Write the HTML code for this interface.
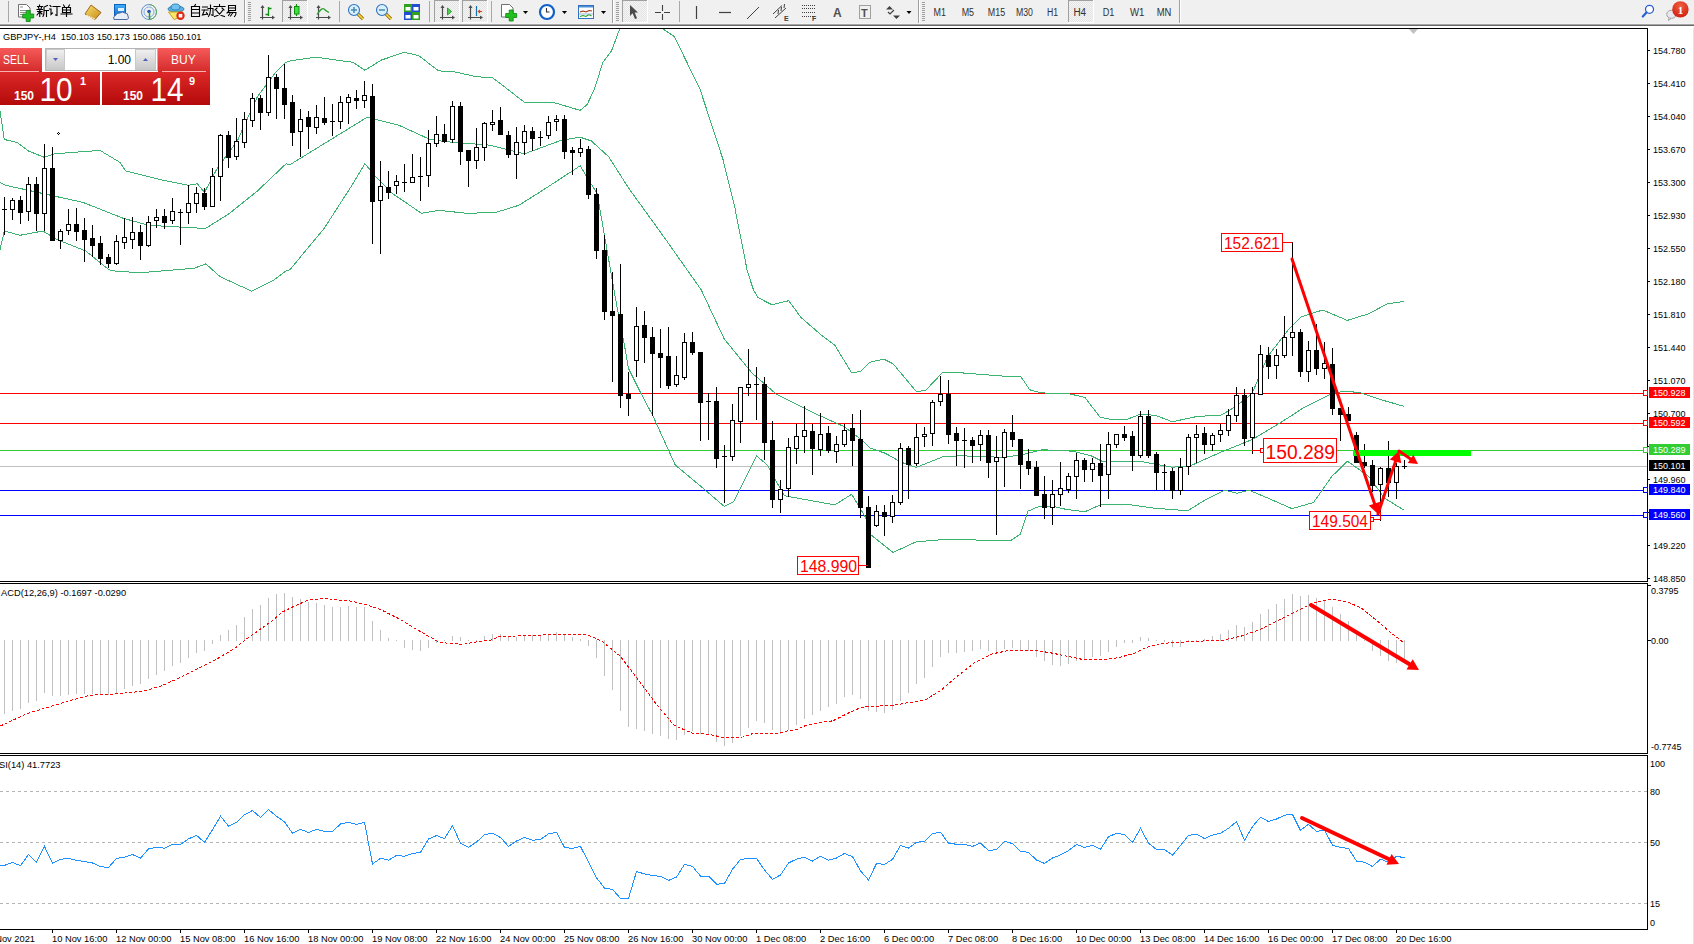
<!DOCTYPE html>
<html><head><meta charset="utf-8"><style>
html,body{margin:0;padding:0;background:#fff;}
body{width:1694px;height:944px;overflow:hidden;position:relative;}
svg{position:absolute;left:0;top:0;}
</style></head><body>
<svg width="1694" height="944" viewBox="0 0 1694 944">
<rect x="0" y="26" width="1694" height="918" fill="#ffffff"/><rect x="0" y="28" width="1648" height="1" fill="#000"/><rect x="1647" y="28" width="1" height="554" fill="#000"/><rect x="0" y="581" width="1648" height="1" fill="#000"/><rect x="0" y="583" width="1648" height="1" fill="#000"/><rect x="1647" y="583" width="1" height="171" fill="#000"/><rect x="0" y="753" width="1648" height="1" fill="#000"/><rect x="0" y="755" width="1648" height="1" fill="#000"/><rect x="1647" y="755" width="1" height="175" fill="#000"/><rect x="0" y="929" width="1648" height="1" fill="#000"/><rect x="1693" y="26" width="1" height="918" fill="#e4e4e4"/><defs><clipPath id="cm"><rect x="0" y="29" width="1647" height="552"/></clipPath><clipPath id="cd"><rect x="0" y="584" width="1647" height="169"/></clipPath><clipPath id="cr"><rect x="0" y="756" width="1647" height="173"/></clipPath></defs><g clip-path="url(#cm)" shape-rendering="crispEdges"><rect x="0" y="393" width="1647" height="1" fill="#ff0000"/><rect x="0" y="423" width="1647" height="1" fill="#ff0000"/><rect x="0" y="450" width="1647" height="1" fill="#32cd32"/><rect x="0" y="466" width="1647" height="1" fill="#c0c0c0"/><rect x="0" y="490" width="1647" height="1" fill="#0000ff"/><rect x="0" y="515" width="1647" height="1" fill="#0000ff"/></g><g clip-path="url(#cm)" fill="none" stroke="#3cb371" stroke-width="1" shape-rendering="crispEdges"><polyline points="0.0,111.0 4.3,139.5 17.0,142.4 28.6,151.0 44.3,157.3 54.3,153.8 100.0,150.4 120.0,162.4 125.8,171.0 160.0,179.6 188.7,185.3 197.3,183.8 204.5,192.4 217.3,168.1 237.3,141.0 257.4,96.6 274.5,73.8 286.0,62.3 290.0,60.9 315.7,57.2 352.9,62.3 364.9,70.3 381.5,60.0 404.4,52.3 418.7,55.7 438.7,70.9 453.0,71.5 475.9,76.6 493.0,78.0 524.5,102.3 553.0,102.3 580.2,110.4 587.1,104.6 594.3,89.5 602.9,62.3 611.5,50.9 620.0,28.0 625.0,10.0 655.0,10.0 661.5,28.0 674.4,36.6 700.1,89.5 723.0,159.5 734.4,205.3 747.3,271.1 753.5,290.0 758.1,297.7 771.9,304.7 788.8,300.7 801.1,317.6 822.6,336.1 834.8,345.3 851.7,372.9 860.9,371.4 870.1,362.2 883.8,359.1 893.0,363.7 916.1,391.3 925.3,390.7 942.2,372.9 962.1,372.9 1002.0,376.0 1020.4,376.0 1029.7,389.8 1041.9,392.9 1069.6,393.8 1084.9,397.5 1100.3,417.4 1112.6,419.6 1127.9,419.0 1140.2,414.3 1155.5,415.3 1172.3,421.8 1196.8,416.5 1221.4,415.0 1236.8,405.8 1252.1,393.5 1267.5,356.7 1289.0,329.0 1301.2,316.8 1322.7,310.0 1335.0,315.2 1347.3,320.4 1368.8,313.7 1387.2,303.9 1404.1,301.4"/><polyline points="0.0,182.4 5.7,185.3 57.2,196.7 83.0,202.4 123.0,218.2 148.7,225.3 200.0,228.2 205.9,228.2 228.8,213.9 257.4,191.0 286.0,163.8 290.0,164.7 367.2,117.2 398.7,125.2 430.1,139.5 447.3,141.8 490.2,145.2 524.5,153.8 561.7,140.1 580.2,137.2 591.4,141.0 608.6,156.7 628.6,188.1 665.8,239.6 701.3,290.0 724.3,339.1 751.9,372.9 776.5,394.4 813.3,412.8 844.0,426.6 862.5,440.4 870.0,448.1 885.4,453.3 900.7,462.0 916.1,467.5 943.7,456.4 962.1,455.8 1002.0,457.3 1020.4,455.2 1041.9,449.7 1072.6,451.2 1091.1,455.8 1103.3,461.9 1140.2,461.3 1172.3,467.2 1190.7,465.7 1221.4,451.9 1252.1,439.6 1282.8,421.2 1304.3,407.3 1331.9,393.5 1344.2,391.1 1359.6,392.6 1381.1,399.7 1404.1,406.4"/><polyline points="0.0,249.6 4.3,231.0 20.0,235.3 42.9,231.0 57.2,239.6 85.8,251.0 108.7,269.6 117.2,271.6 143.0,272.5 194.4,268.2 205.9,263.9 220.2,276.8 251.6,291.1 274.5,279.6 286.0,271.0 290.0,269.6 324.3,228.2 352.9,183.8 364.9,163.8 375.8,176.7 393.0,193.9 421.5,213.3 438.7,210.4 467.3,213.3 495.9,212.4 518.8,205.3 541.6,191.0 580.2,165.8 597.2,193.9 614.0,290.0 618.2,313.4 623.7,341.0 628.5,368.5 640.2,391.9 652.6,415.3 675.2,465.0 702.8,488.0 724.3,506.5 733.5,501.8 756.5,455.8 767.3,465.0 784.2,495.7 801.1,498.8 834.8,504.9 851.7,494.2 865.5,517.2 870.0,534.1 893.0,552.5 916.1,541.8 946.8,539.3 983.6,540.2 1011.2,540.2 1020.4,534.1 1028.1,511.1 1038.9,506.5 1054.2,506.5 1066.5,509.5 1084.9,511.7 1100.3,504.9 1131.0,504.9 1152.5,508.0 1187.6,510.8 1206.1,499.4 1224.5,490.2 1236.8,493.3 1249.0,490.2 1267.5,497.9 1292.0,508.7 1313.5,502.5 1331.9,476.4 1347.3,461.1 1368.8,476.4 1384.1,497.9 1404.1,510.2"/></g><g clip-path="url(#cm)" shape-rendering="crispEdges"><rect x="4" y="197" width="1" height="38" fill="#000"/><rect x="2" y="209" width="5" height="1" fill="#000"/><rect x="12" y="198" width="1" height="22" fill="#000"/><rect x="10" y="200" width="5" height="10" fill="#000"/><rect x="11" y="201" width="3" height="8" fill="#fff"/><rect x="20" y="196" width="1" height="28" fill="#000"/><rect x="18" y="200" width="5" height="13" fill="#000"/><rect x="28" y="177" width="1" height="44" fill="#000"/><rect x="26" y="184" width="5" height="28" fill="#000"/><rect x="27" y="185" width="3" height="26" fill="#fff"/><rect x="36" y="177" width="1" height="54" fill="#000"/><rect x="34" y="184" width="5" height="30" fill="#000"/><rect x="44" y="144" width="1" height="87" fill="#000"/><rect x="42" y="168" width="5" height="46" fill="#000"/><rect x="43" y="169" width="3" height="44" fill="#fff"/><rect x="52" y="147" width="1" height="94" fill="#000"/><rect x="50" y="168" width="5" height="73" fill="#000"/><rect x="60" y="229" width="1" height="20" fill="#000"/><rect x="58" y="231" width="5" height="10" fill="#000"/><rect x="59" y="232" width="3" height="8" fill="#fff"/><rect x="68" y="209" width="1" height="26" fill="#000"/><rect x="66" y="224" width="5" height="7" fill="#000"/><rect x="67" y="225" width="3" height="5" fill="#fff"/><rect x="76" y="208" width="1" height="33" fill="#000"/><rect x="74" y="224" width="5" height="8" fill="#000"/><rect x="84" y="218" width="1" height="44" fill="#000"/><rect x="82" y="230" width="5" height="10" fill="#000"/><rect x="92" y="225" width="1" height="32" fill="#000"/><rect x="90" y="238" width="5" height="8" fill="#000"/><rect x="100" y="236" width="1" height="29" fill="#000"/><rect x="98" y="243" width="5" height="16" fill="#000"/><rect x="108" y="254" width="1" height="14" fill="#000"/><rect x="106" y="257" width="5" height="7" fill="#000"/><rect x="116" y="235" width="1" height="30" fill="#000"/><rect x="114" y="241" width="5" height="23" fill="#000"/><rect x="115" y="242" width="3" height="21" fill="#fff"/><rect x="124" y="218" width="1" height="31" fill="#000"/><rect x="122" y="237" width="5" height="6" fill="#000"/><rect x="123" y="238" width="3" height="4" fill="#fff"/><rect x="132" y="217" width="1" height="32" fill="#000"/><rect x="130" y="232" width="5" height="8" fill="#000"/><rect x="131" y="233" width="3" height="6" fill="#fff"/><rect x="140" y="225" width="1" height="35" fill="#000"/><rect x="138" y="232" width="5" height="14" fill="#000"/><rect x="148" y="216" width="1" height="31" fill="#000"/><rect x="146" y="222" width="5" height="24" fill="#000"/><rect x="147" y="223" width="3" height="22" fill="#fff"/><rect x="156" y="209" width="1" height="19" fill="#000"/><rect x="154" y="217" width="5" height="4" fill="#000"/><rect x="155" y="218" width="3" height="2" fill="#fff"/><rect x="164" y="209" width="1" height="20" fill="#000"/><rect x="162" y="216" width="5" height="7" fill="#000"/><rect x="172" y="198" width="1" height="26" fill="#000"/><rect x="170" y="211" width="5" height="10" fill="#000"/><rect x="171" y="212" width="3" height="8" fill="#fff"/><rect x="180" y="209" width="1" height="36" fill="#000"/><rect x="178" y="212" width="5" height="1" fill="#000"/><rect x="188" y="185" width="1" height="39" fill="#000"/><rect x="186" y="203" width="5" height="10" fill="#000"/><rect x="187" y="204" width="3" height="8" fill="#fff"/><rect x="196" y="187" width="1" height="26" fill="#000"/><rect x="194" y="193" width="5" height="11" fill="#000"/><rect x="195" y="194" width="3" height="9" fill="#fff"/><rect x="204" y="188" width="1" height="22" fill="#000"/><rect x="202" y="193" width="5" height="14" fill="#000"/><rect x="212" y="168" width="1" height="39" fill="#000"/><rect x="210" y="176" width="5" height="31" fill="#000"/><rect x="211" y="177" width="3" height="29" fill="#fff"/><rect x="220" y="134" width="1" height="67" fill="#000"/><rect x="218" y="135" width="5" height="42" fill="#000"/><rect x="219" y="136" width="3" height="40" fill="#fff"/><rect x="228" y="131" width="1" height="37" fill="#000"/><rect x="226" y="135" width="5" height="23" fill="#000"/><rect x="236" y="118" width="1" height="42" fill="#000"/><rect x="234" y="141" width="5" height="16" fill="#000"/><rect x="235" y="142" width="3" height="14" fill="#fff"/><rect x="244" y="112" width="1" height="36" fill="#000"/><rect x="242" y="119" width="5" height="24" fill="#000"/><rect x="243" y="120" width="3" height="22" fill="#fff"/><rect x="252" y="93" width="1" height="34" fill="#000"/><rect x="250" y="98" width="5" height="23" fill="#000"/><rect x="251" y="99" width="3" height="21" fill="#fff"/><rect x="260" y="95" width="1" height="35" fill="#000"/><rect x="258" y="98" width="5" height="15" fill="#000"/><rect x="268" y="55" width="1" height="61" fill="#000"/><rect x="266" y="77" width="5" height="36" fill="#000"/><rect x="267" y="78" width="3" height="34" fill="#fff"/><rect x="276" y="74" width="1" height="45" fill="#000"/><rect x="274" y="77" width="5" height="12" fill="#000"/><rect x="284" y="64" width="1" height="55" fill="#000"/><rect x="282" y="88" width="5" height="17" fill="#000"/><rect x="292" y="95" width="1" height="51" fill="#000"/><rect x="290" y="102" width="5" height="31" fill="#000"/><rect x="300" y="109" width="1" height="48" fill="#000"/><rect x="298" y="119" width="5" height="13" fill="#000"/><rect x="299" y="120" width="3" height="11" fill="#fff"/><rect x="308" y="111" width="1" height="38" fill="#000"/><rect x="306" y="117" width="5" height="10" fill="#000"/><rect x="316" y="105" width="1" height="29" fill="#000"/><rect x="314" y="117" width="5" height="11" fill="#000"/><rect x="315" y="118" width="3" height="9" fill="#fff"/><rect x="324" y="97" width="1" height="28" fill="#000"/><rect x="322" y="118" width="5" height="5" fill="#000"/><rect x="332" y="104" width="1" height="32" fill="#000"/><rect x="330" y="121" width="5" height="1" fill="#000"/><rect x="340" y="96" width="1" height="33" fill="#000"/><rect x="338" y="102" width="5" height="20" fill="#000"/><rect x="339" y="103" width="3" height="18" fill="#fff"/><rect x="348" y="94" width="1" height="30" fill="#000"/><rect x="346" y="97" width="5" height="6" fill="#000"/><rect x="347" y="98" width="3" height="4" fill="#fff"/><rect x="356" y="90" width="1" height="19" fill="#000"/><rect x="354" y="98" width="5" height="3" fill="#000"/><rect x="364" y="81" width="1" height="27" fill="#000"/><rect x="362" y="95" width="5" height="6" fill="#000"/><rect x="363" y="96" width="3" height="4" fill="#fff"/><rect x="372" y="84" width="1" height="160" fill="#000"/><rect x="370" y="96" width="5" height="106" fill="#000"/><rect x="380" y="161" width="1" height="93" fill="#000"/><rect x="378" y="186" width="5" height="15" fill="#000"/><rect x="379" y="187" width="3" height="13" fill="#fff"/><rect x="388" y="171" width="1" height="28" fill="#000"/><rect x="386" y="187" width="5" height="6" fill="#000"/><rect x="396" y="175" width="1" height="19" fill="#000"/><rect x="394" y="181" width="5" height="5" fill="#000"/><rect x="395" y="182" width="3" height="3" fill="#fff"/><rect x="404" y="164" width="1" height="28" fill="#000"/><rect x="402" y="182" width="5" height="1" fill="#000"/><rect x="412" y="154" width="1" height="29" fill="#000"/><rect x="410" y="177" width="5" height="6" fill="#000"/><rect x="411" y="178" width="3" height="4" fill="#fff"/><rect x="420" y="157" width="1" height="44" fill="#000"/><rect x="418" y="176" width="5" height="1" fill="#000"/><rect x="428" y="130" width="1" height="57" fill="#000"/><rect x="426" y="143" width="5" height="33" fill="#000"/><rect x="427" y="144" width="3" height="31" fill="#fff"/><rect x="436" y="116" width="1" height="31" fill="#000"/><rect x="434" y="134" width="5" height="10" fill="#000"/><rect x="435" y="135" width="3" height="8" fill="#fff"/><rect x="444" y="124" width="1" height="19" fill="#000"/><rect x="442" y="134" width="5" height="8" fill="#000"/><rect x="452" y="101" width="1" height="42" fill="#000"/><rect x="450" y="106" width="5" height="34" fill="#000"/><rect x="451" y="107" width="3" height="32" fill="#fff"/><rect x="460" y="102" width="1" height="63" fill="#000"/><rect x="458" y="106" width="5" height="46" fill="#000"/><rect x="468" y="150" width="1" height="37" fill="#000"/><rect x="466" y="150" width="5" height="11" fill="#000"/><rect x="476" y="128" width="1" height="41" fill="#000"/><rect x="474" y="147" width="5" height="14" fill="#000"/><rect x="475" y="148" width="3" height="12" fill="#fff"/><rect x="484" y="122" width="1" height="39" fill="#000"/><rect x="482" y="123" width="5" height="25" fill="#000"/><rect x="483" y="124" width="3" height="23" fill="#fff"/><rect x="492" y="110" width="1" height="21" fill="#000"/><rect x="490" y="122" width="5" height="3" fill="#000"/><rect x="491" y="123" width="3" height="1" fill="#fff"/><rect x="500" y="107" width="1" height="28" fill="#000"/><rect x="498" y="120" width="5" height="15" fill="#000"/><rect x="508" y="131" width="1" height="27" fill="#000"/><rect x="506" y="135" width="5" height="20" fill="#000"/><rect x="516" y="127" width="1" height="52" fill="#000"/><rect x="514" y="142" width="5" height="13" fill="#000"/><rect x="515" y="143" width="3" height="11" fill="#fff"/><rect x="524" y="125" width="1" height="30" fill="#000"/><rect x="522" y="131" width="5" height="12" fill="#000"/><rect x="523" y="132" width="3" height="10" fill="#fff"/><rect x="532" y="127" width="1" height="24" fill="#000"/><rect x="530" y="131" width="5" height="8" fill="#000"/><rect x="540" y="131" width="1" height="15" fill="#000"/><rect x="538" y="137" width="5" height="1" fill="#000"/><rect x="548" y="116" width="1" height="23" fill="#000"/><rect x="546" y="122" width="5" height="14" fill="#000"/><rect x="547" y="123" width="3" height="12" fill="#fff"/><rect x="556" y="115" width="1" height="16" fill="#000"/><rect x="554" y="119" width="5" height="3" fill="#000"/><rect x="555" y="120" width="3" height="1" fill="#fff"/><rect x="564" y="115" width="1" height="44" fill="#000"/><rect x="562" y="119" width="5" height="33" fill="#000"/><rect x="572" y="147" width="1" height="28" fill="#000"/><rect x="570" y="150" width="5" height="3" fill="#000"/><rect x="580" y="139" width="1" height="18" fill="#000"/><rect x="578" y="148" width="5" height="5" fill="#000"/><rect x="579" y="149" width="3" height="3" fill="#fff"/><rect x="588" y="146" width="1" height="53" fill="#000"/><rect x="586" y="149" width="5" height="46" fill="#000"/><rect x="596" y="188" width="1" height="71" fill="#000"/><rect x="594" y="194" width="5" height="57" fill="#000"/><rect x="604" y="235" width="1" height="85" fill="#000"/><rect x="602" y="250" width="5" height="62" fill="#000"/><rect x="612" y="272" width="1" height="110" fill="#000"/><rect x="610" y="311" width="5" height="5" fill="#000"/><rect x="620" y="264" width="1" height="144" fill="#000"/><rect x="618" y="314" width="5" height="82" fill="#000"/><rect x="628" y="372" width="1" height="44" fill="#000"/><rect x="626" y="394" width="5" height="5" fill="#000"/><rect x="636" y="307" width="1" height="70" fill="#000"/><rect x="634" y="326" width="5" height="35" fill="#000"/><rect x="635" y="327" width="3" height="33" fill="#fff"/><rect x="644" y="311" width="1" height="52" fill="#000"/><rect x="642" y="325" width="5" height="13" fill="#000"/><rect x="652" y="327" width="1" height="89" fill="#000"/><rect x="650" y="337" width="5" height="17" fill="#000"/><rect x="660" y="329" width="1" height="59" fill="#000"/><rect x="658" y="353" width="5" height="5" fill="#000"/><rect x="668" y="327" width="1" height="62" fill="#000"/><rect x="666" y="356" width="5" height="30" fill="#000"/><rect x="676" y="356" width="1" height="31" fill="#000"/><rect x="674" y="375" width="5" height="10" fill="#000"/><rect x="675" y="376" width="3" height="8" fill="#fff"/><rect x="684" y="333" width="1" height="47" fill="#000"/><rect x="682" y="342" width="5" height="36" fill="#000"/><rect x="683" y="343" width="3" height="34" fill="#fff"/><rect x="692" y="332" width="1" height="23" fill="#000"/><rect x="690" y="342" width="5" height="11" fill="#000"/><rect x="700" y="352" width="1" height="89" fill="#000"/><rect x="698" y="352" width="5" height="51" fill="#000"/><rect x="708" y="393" width="1" height="47" fill="#000"/><rect x="706" y="401" width="5" height="1" fill="#000"/><rect x="716" y="387" width="1" height="81" fill="#000"/><rect x="714" y="401" width="5" height="58" fill="#000"/><rect x="724" y="445" width="1" height="58" fill="#000"/><rect x="722" y="456" width="5" height="1" fill="#000"/><rect x="732" y="404" width="1" height="57" fill="#000"/><rect x="730" y="420" width="5" height="37" fill="#000"/><rect x="731" y="421" width="3" height="35" fill="#fff"/><rect x="740" y="387" width="1" height="56" fill="#000"/><rect x="738" y="387" width="5" height="35" fill="#000"/><rect x="739" y="388" width="3" height="33" fill="#fff"/><rect x="748" y="349" width="1" height="47" fill="#000"/><rect x="746" y="384" width="5" height="4" fill="#000"/><rect x="747" y="385" width="3" height="2" fill="#fff"/><rect x="756" y="367" width="1" height="53" fill="#000"/><rect x="754" y="384" width="5" height="1" fill="#000"/><rect x="764" y="377" width="1" height="83" fill="#000"/><rect x="762" y="384" width="5" height="59" fill="#000"/><rect x="772" y="421" width="1" height="87" fill="#000"/><rect x="770" y="440" width="5" height="60" fill="#000"/><rect x="780" y="480" width="1" height="33" fill="#000"/><rect x="778" y="489" width="5" height="11" fill="#000"/><rect x="779" y="490" width="3" height="9" fill="#fff"/><rect x="788" y="438" width="1" height="59" fill="#000"/><rect x="786" y="447" width="5" height="42" fill="#000"/><rect x="787" y="448" width="3" height="40" fill="#fff"/><rect x="796" y="424" width="1" height="40" fill="#000"/><rect x="794" y="436" width="5" height="13" fill="#000"/><rect x="795" y="437" width="3" height="11" fill="#fff"/><rect x="804" y="406" width="1" height="47" fill="#000"/><rect x="802" y="430" width="5" height="7" fill="#000"/><rect x="803" y="431" width="3" height="5" fill="#fff"/><rect x="812" y="424" width="1" height="51" fill="#000"/><rect x="810" y="431" width="5" height="18" fill="#000"/><rect x="820" y="413" width="1" height="43" fill="#000"/><rect x="818" y="434" width="5" height="16" fill="#000"/><rect x="819" y="435" width="3" height="14" fill="#fff"/><rect x="828" y="426" width="1" height="27" fill="#000"/><rect x="826" y="433" width="5" height="18" fill="#000"/><rect x="836" y="436" width="1" height="27" fill="#000"/><rect x="834" y="444" width="5" height="8" fill="#000"/><rect x="835" y="445" width="3" height="6" fill="#fff"/><rect x="844" y="424" width="1" height="23" fill="#000"/><rect x="842" y="430" width="5" height="15" fill="#000"/><rect x="843" y="431" width="3" height="13" fill="#fff"/><rect x="852" y="414" width="1" height="52" fill="#000"/><rect x="850" y="428" width="5" height="13" fill="#000"/><rect x="860" y="410" width="1" height="108" fill="#000"/><rect x="858" y="439" width="5" height="69" fill="#000"/><rect x="868" y="496" width="1" height="72" fill="#000"/><rect x="866" y="507" width="5" height="61" fill="#000"/><rect x="876" y="505" width="1" height="22" fill="#000"/><rect x="874" y="511" width="5" height="15" fill="#000"/><rect x="875" y="512" width="3" height="13" fill="#fff"/><rect x="884" y="505" width="1" height="31" fill="#000"/><rect x="882" y="512" width="5" height="5" fill="#000"/><rect x="892" y="495" width="1" height="28" fill="#000"/><rect x="890" y="502" width="5" height="15" fill="#000"/><rect x="891" y="503" width="3" height="13" fill="#fff"/><rect x="900" y="443" width="1" height="62" fill="#000"/><rect x="898" y="448" width="5" height="55" fill="#000"/><rect x="899" y="449" width="3" height="53" fill="#fff"/><rect x="908" y="446" width="1" height="53" fill="#000"/><rect x="906" y="448" width="5" height="17" fill="#000"/><rect x="916" y="424" width="1" height="42" fill="#000"/><rect x="914" y="437" width="5" height="27" fill="#000"/><rect x="915" y="438" width="3" height="25" fill="#fff"/><rect x="924" y="427" width="1" height="20" fill="#000"/><rect x="922" y="434" width="5" height="3" fill="#000"/><rect x="923" y="435" width="3" height="1" fill="#fff"/><rect x="932" y="400" width="1" height="46" fill="#000"/><rect x="930" y="402" width="5" height="32" fill="#000"/><rect x="931" y="403" width="3" height="30" fill="#fff"/><rect x="940" y="376" width="1" height="30" fill="#000"/><rect x="938" y="394" width="5" height="8" fill="#000"/><rect x="939" y="395" width="3" height="6" fill="#fff"/><rect x="948" y="380" width="1" height="64" fill="#000"/><rect x="946" y="394" width="5" height="41" fill="#000"/><rect x="956" y="427" width="1" height="39" fill="#000"/><rect x="954" y="433" width="5" height="8" fill="#000"/><rect x="964" y="428" width="1" height="40" fill="#000"/><rect x="962" y="440" width="5" height="1" fill="#000"/><rect x="972" y="437" width="1" height="26" fill="#000"/><rect x="970" y="440" width="5" height="6" fill="#000"/><rect x="980" y="430" width="1" height="31" fill="#000"/><rect x="978" y="435" width="5" height="10" fill="#000"/><rect x="979" y="436" width="3" height="8" fill="#fff"/><rect x="988" y="430" width="1" height="48" fill="#000"/><rect x="986" y="435" width="5" height="28" fill="#000"/><rect x="996" y="436" width="1" height="99" fill="#000"/><rect x="994" y="457" width="5" height="5" fill="#000"/><rect x="995" y="458" width="3" height="3" fill="#fff"/><rect x="1004" y="429" width="1" height="58" fill="#000"/><rect x="1002" y="432" width="5" height="26" fill="#000"/><rect x="1003" y="433" width="3" height="24" fill="#fff"/><rect x="1012" y="415" width="1" height="32" fill="#000"/><rect x="1010" y="432" width="5" height="8" fill="#000"/><rect x="1020" y="439" width="1" height="50" fill="#000"/><rect x="1018" y="439" width="5" height="26" fill="#000"/><rect x="1028" y="449" width="1" height="26" fill="#000"/><rect x="1026" y="461" width="5" height="8" fill="#000"/><rect x="1036" y="461" width="1" height="35" fill="#000"/><rect x="1034" y="467" width="5" height="29" fill="#000"/><rect x="1044" y="476" width="1" height="43" fill="#000"/><rect x="1042" y="494" width="5" height="14" fill="#000"/><rect x="1052" y="480" width="1" height="45" fill="#000"/><rect x="1050" y="494" width="5" height="14" fill="#000"/><rect x="1051" y="495" width="3" height="12" fill="#fff"/><rect x="1060" y="462" width="1" height="44" fill="#000"/><rect x="1058" y="488" width="5" height="7" fill="#000"/><rect x="1059" y="489" width="3" height="5" fill="#fff"/><rect x="1068" y="473" width="1" height="20" fill="#000"/><rect x="1066" y="476" width="5" height="14" fill="#000"/><rect x="1067" y="477" width="3" height="12" fill="#fff"/><rect x="1076" y="453" width="1" height="46" fill="#000"/><rect x="1074" y="460" width="5" height="17" fill="#000"/><rect x="1075" y="461" width="3" height="15" fill="#fff"/><rect x="1084" y="458" width="1" height="24" fill="#000"/><rect x="1082" y="460" width="5" height="10" fill="#000"/><rect x="1092" y="458" width="1" height="24" fill="#000"/><rect x="1090" y="463" width="5" height="7" fill="#000"/><rect x="1091" y="464" width="3" height="5" fill="#fff"/><rect x="1100" y="444" width="1" height="63" fill="#000"/><rect x="1098" y="463" width="5" height="13" fill="#000"/><rect x="1108" y="432" width="1" height="67" fill="#000"/><rect x="1106" y="444" width="5" height="31" fill="#000"/><rect x="1107" y="445" width="3" height="29" fill="#fff"/><rect x="1116" y="434" width="1" height="14" fill="#000"/><rect x="1114" y="434" width="5" height="11" fill="#000"/><rect x="1115" y="435" width="3" height="9" fill="#fff"/><rect x="1124" y="426" width="1" height="15" fill="#000"/><rect x="1122" y="434" width="5" height="4" fill="#000"/><rect x="1132" y="431" width="1" height="40" fill="#000"/><rect x="1130" y="436" width="5" height="20" fill="#000"/><rect x="1140" y="411" width="1" height="47" fill="#000"/><rect x="1138" y="416" width="5" height="40" fill="#000"/><rect x="1139" y="417" width="3" height="38" fill="#fff"/><rect x="1148" y="410" width="1" height="48" fill="#000"/><rect x="1146" y="416" width="5" height="40" fill="#000"/><rect x="1156" y="452" width="1" height="38" fill="#000"/><rect x="1154" y="454" width="5" height="19" fill="#000"/><rect x="1164" y="464" width="1" height="26" fill="#000"/><rect x="1162" y="472" width="5" height="1" fill="#000"/><rect x="1172" y="468" width="1" height="31" fill="#000"/><rect x="1170" y="471" width="5" height="20" fill="#000"/><rect x="1180" y="458" width="1" height="37" fill="#000"/><rect x="1178" y="467" width="5" height="24" fill="#000"/><rect x="1179" y="468" width="3" height="22" fill="#fff"/><rect x="1188" y="434" width="1" height="41" fill="#000"/><rect x="1186" y="437" width="5" height="30" fill="#000"/><rect x="1187" y="438" width="3" height="28" fill="#fff"/><rect x="1196" y="425" width="1" height="38" fill="#000"/><rect x="1194" y="434" width="5" height="4" fill="#000"/><rect x="1195" y="435" width="3" height="2" fill="#fff"/><rect x="1204" y="427" width="1" height="27" fill="#000"/><rect x="1202" y="433" width="5" height="12" fill="#000"/><rect x="1212" y="433" width="1" height="18" fill="#000"/><rect x="1210" y="435" width="5" height="10" fill="#000"/><rect x="1211" y="436" width="3" height="8" fill="#fff"/><rect x="1220" y="424" width="1" height="18" fill="#000"/><rect x="1218" y="430" width="5" height="5" fill="#000"/><rect x="1219" y="431" width="3" height="3" fill="#fff"/><rect x="1228" y="409" width="1" height="27" fill="#000"/><rect x="1226" y="415" width="5" height="16" fill="#000"/><rect x="1227" y="416" width="3" height="14" fill="#fff"/><rect x="1236" y="387" width="1" height="35" fill="#000"/><rect x="1234" y="395" width="5" height="21" fill="#000"/><rect x="1235" y="396" width="3" height="19" fill="#fff"/><rect x="1244" y="389" width="1" height="57" fill="#000"/><rect x="1242" y="395" width="5" height="44" fill="#000"/><rect x="1252" y="387" width="1" height="67" fill="#000"/><rect x="1250" y="393" width="5" height="45" fill="#000"/><rect x="1251" y="394" width="3" height="43" fill="#fff"/><rect x="1260" y="345" width="1" height="50" fill="#000"/><rect x="1258" y="354" width="5" height="41" fill="#000"/><rect x="1259" y="355" width="3" height="39" fill="#fff"/><rect x="1268" y="347" width="1" height="32" fill="#000"/><rect x="1266" y="355" width="5" height="12" fill="#000"/><rect x="1276" y="349" width="1" height="30" fill="#000"/><rect x="1274" y="355" width="5" height="11" fill="#000"/><rect x="1275" y="356" width="3" height="9" fill="#fff"/><rect x="1284" y="316" width="1" height="42" fill="#000"/><rect x="1282" y="337" width="5" height="19" fill="#000"/><rect x="1283" y="338" width="3" height="17" fill="#fff"/><rect x="1292" y="242" width="1" height="114" fill="#000"/><rect x="1290" y="332" width="5" height="6" fill="#000"/><rect x="1291" y="333" width="3" height="4" fill="#fff"/><rect x="1300" y="329" width="1" height="48" fill="#000"/><rect x="1298" y="332" width="5" height="40" fill="#000"/><rect x="1308" y="341" width="1" height="41" fill="#000"/><rect x="1306" y="350" width="5" height="22" fill="#000"/><rect x="1307" y="351" width="3" height="20" fill="#fff"/><rect x="1316" y="324" width="1" height="51" fill="#000"/><rect x="1314" y="350" width="5" height="19" fill="#000"/><rect x="1324" y="342" width="1" height="37" fill="#000"/><rect x="1322" y="363" width="5" height="6" fill="#000"/><rect x="1323" y="364" width="3" height="4" fill="#fff"/><rect x="1332" y="348" width="1" height="67" fill="#000"/><rect x="1330" y="364" width="5" height="45" fill="#000"/><rect x="1340" y="408" width="1" height="33" fill="#000"/><rect x="1338" y="408" width="5" height="7" fill="#000"/><rect x="1348" y="407" width="1" height="14" fill="#000"/><rect x="1346" y="414" width="5" height="7" fill="#000"/><rect x="1356" y="432" width="1" height="31" fill="#000"/><rect x="1354" y="435" width="5" height="28" fill="#000"/><rect x="1364" y="444" width="1" height="24" fill="#000"/><rect x="1362" y="462" width="5" height="4" fill="#000"/><rect x="1372" y="460" width="1" height="32" fill="#000"/><rect x="1370" y="465" width="5" height="21" fill="#000"/><rect x="1380" y="467" width="1" height="54" fill="#000"/><rect x="1378" y="468" width="5" height="17" fill="#000"/><rect x="1379" y="469" width="3" height="15" fill="#fff"/><rect x="1388" y="441" width="1" height="56" fill="#000"/><rect x="1386" y="468" width="5" height="15" fill="#000"/><rect x="1396" y="463" width="1" height="36" fill="#000"/><rect x="1394" y="466" width="5" height="17" fill="#000"/><rect x="1395" y="467" width="3" height="15" fill="#fff"/><rect x="1404" y="460" width="1" height="9" fill="#000"/><rect x="1402" y="466" width="5" height="1" fill="#000"/></g><g clip-path="url(#cd)" shape-rendering="crispEdges"><rect x="4" y="640" width="1" height="74" fill="#c0c0c0"/><rect x="12" y="640" width="1" height="71" fill="#c0c0c0"/><rect x="20" y="640" width="1" height="69" fill="#c0c0c0"/><rect x="28" y="640" width="1" height="63" fill="#c0c0c0"/><rect x="36" y="640" width="1" height="61" fill="#c0c0c0"/><rect x="44" y="640" width="1" height="53" fill="#c0c0c0"/><rect x="52" y="640" width="1" height="56" fill="#c0c0c0"/><rect x="60" y="640" width="1" height="56" fill="#c0c0c0"/><rect x="68" y="640" width="1" height="55" fill="#c0c0c0"/><rect x="76" y="640" width="1" height="54" fill="#c0c0c0"/><rect x="84" y="640" width="1" height="54" fill="#c0c0c0"/><rect x="92" y="640" width="1" height="54" fill="#c0c0c0"/><rect x="100" y="640" width="1" height="55" fill="#c0c0c0"/><rect x="108" y="640" width="1" height="55" fill="#c0c0c0"/><rect x="116" y="640" width="1" height="53" fill="#c0c0c0"/><rect x="124" y="640" width="1" height="49" fill="#c0c0c0"/><rect x="132" y="640" width="1" height="46" fill="#c0c0c0"/><rect x="140" y="640" width="1" height="44" fill="#c0c0c0"/><rect x="148" y="640" width="1" height="39" fill="#c0c0c0"/><rect x="156" y="640" width="1" height="35" fill="#c0c0c0"/><rect x="164" y="640" width="1" height="31" fill="#c0c0c0"/><rect x="172" y="640" width="1" height="26" fill="#c0c0c0"/><rect x="180" y="640" width="1" height="23" fill="#c0c0c0"/><rect x="188" y="640" width="1" height="18" fill="#c0c0c0"/><rect x="196" y="640" width="1" height="13" fill="#c0c0c0"/><rect x="204" y="640" width="1" height="11" fill="#c0c0c0"/><rect x="212" y="640" width="1" height="4" fill="#c0c0c0"/><rect x="220" y="635" width="1" height="6" fill="#c0c0c0"/><rect x="228" y="630" width="1" height="11" fill="#c0c0c0"/><rect x="236" y="625" width="1" height="16" fill="#c0c0c0"/><rect x="244" y="617" width="1" height="24" fill="#c0c0c0"/><rect x="252" y="609" width="1" height="32" fill="#c0c0c0"/><rect x="260" y="605" width="1" height="36" fill="#c0c0c0"/><rect x="268" y="598" width="1" height="43" fill="#c0c0c0"/><rect x="276" y="594" width="1" height="47" fill="#c0c0c0"/><rect x="284" y="593" width="1" height="48" fill="#c0c0c0"/><rect x="292" y="597" width="1" height="44" fill="#c0c0c0"/><rect x="300" y="599" width="1" height="42" fill="#c0c0c0"/><rect x="308" y="602" width="1" height="39" fill="#c0c0c0"/><rect x="316" y="603" width="1" height="38" fill="#c0c0c0"/><rect x="324" y="605" width="1" height="36" fill="#c0c0c0"/><rect x="332" y="607" width="1" height="34" fill="#c0c0c0"/><rect x="340" y="607" width="1" height="34" fill="#c0c0c0"/><rect x="348" y="606" width="1" height="35" fill="#c0c0c0"/><rect x="356" y="607" width="1" height="34" fill="#c0c0c0"/><rect x="364" y="607" width="1" height="34" fill="#c0c0c0"/><rect x="372" y="621" width="1" height="20" fill="#c0c0c0"/><rect x="380" y="630" width="1" height="11" fill="#c0c0c0"/><rect x="388" y="638" width="1" height="3" fill="#c0c0c0"/><rect x="396" y="640" width="1" height="1" fill="#c0c0c0"/><rect x="404" y="640" width="1" height="8" fill="#c0c0c0"/><rect x="412" y="640" width="1" height="10" fill="#c0c0c0"/><rect x="420" y="640" width="1" height="11" fill="#c0c0c0"/><rect x="428" y="640" width="1" height="8" fill="#c0c0c0"/><rect x="436" y="640" width="1" height="3" fill="#c0c0c0"/><rect x="444" y="640" width="1" height="1" fill="#c0c0c0"/><rect x="452" y="636" width="1" height="5" fill="#c0c0c0"/><rect x="460" y="637" width="1" height="4" fill="#c0c0c0"/><rect x="468" y="640" width="1" height="1" fill="#c0c0c0"/><rect x="476" y="640" width="1" height="1" fill="#c0c0c0"/><rect x="484" y="636" width="1" height="5" fill="#c0c0c0"/><rect x="492" y="634" width="1" height="7" fill="#c0c0c0"/><rect x="500" y="634" width="1" height="7" fill="#c0c0c0"/><rect x="508" y="637" width="1" height="4" fill="#c0c0c0"/><rect x="516" y="637" width="1" height="4" fill="#c0c0c0"/><rect x="524" y="635" width="1" height="6" fill="#c0c0c0"/><rect x="532" y="635" width="1" height="6" fill="#c0c0c0"/><rect x="540" y="635" width="1" height="6" fill="#c0c0c0"/><rect x="548" y="634" width="1" height="7" fill="#c0c0c0"/><rect x="556" y="632" width="1" height="9" fill="#c0c0c0"/><rect x="564" y="634" width="1" height="7" fill="#c0c0c0"/><rect x="572" y="637" width="1" height="4" fill="#c0c0c0"/><rect x="580" y="639" width="1" height="2" fill="#c0c0c0"/><rect x="588" y="640" width="1" height="6" fill="#c0c0c0"/><rect x="596" y="640" width="1" height="18" fill="#c0c0c0"/><rect x="604" y="640" width="1" height="36" fill="#c0c0c0"/><rect x="612" y="640" width="1" height="50" fill="#c0c0c0"/><rect x="620" y="640" width="1" height="71" fill="#c0c0c0"/><rect x="628" y="640" width="1" height="87" fill="#c0c0c0"/><rect x="636" y="640" width="1" height="89" fill="#c0c0c0"/><rect x="644" y="640" width="1" height="91" fill="#c0c0c0"/><rect x="652" y="640" width="1" height="94" fill="#c0c0c0"/><rect x="660" y="640" width="1" height="96" fill="#c0c0c0"/><rect x="668" y="640" width="1" height="99" fill="#c0c0c0"/><rect x="676" y="640" width="1" height="100" fill="#c0c0c0"/><rect x="684" y="640" width="1" height="95" fill="#c0c0c0"/><rect x="692" y="640" width="1" height="91" fill="#c0c0c0"/><rect x="700" y="640" width="1" height="94" fill="#c0c0c0"/><rect x="708" y="640" width="1" height="94" fill="#c0c0c0"/><rect x="716" y="640" width="1" height="102" fill="#c0c0c0"/><rect x="724" y="640" width="1" height="106" fill="#c0c0c0"/><rect x="732" y="640" width="1" height="103" fill="#c0c0c0"/><rect x="740" y="640" width="1" height="96" fill="#c0c0c0"/><rect x="748" y="640" width="1" height="88" fill="#c0c0c0"/><rect x="756" y="640" width="1" height="81" fill="#c0c0c0"/><rect x="764" y="640" width="1" height="83" fill="#c0c0c0"/><rect x="772" y="640" width="1" height="90" fill="#c0c0c0"/><rect x="780" y="640" width="1" height="94" fill="#c0c0c0"/><rect x="788" y="640" width="1" height="90" fill="#c0c0c0"/><rect x="796" y="640" width="1" height="85" fill="#c0c0c0"/><rect x="804" y="640" width="1" height="79" fill="#c0c0c0"/><rect x="812" y="640" width="1" height="75" fill="#c0c0c0"/><rect x="820" y="640" width="1" height="71" fill="#c0c0c0"/><rect x="828" y="640" width="1" height="67" fill="#c0c0c0"/><rect x="836" y="640" width="1" height="64" fill="#c0c0c0"/><rect x="844" y="640" width="1" height="57" fill="#c0c0c0"/><rect x="852" y="640" width="1" height="55" fill="#c0c0c0"/><rect x="860" y="640" width="1" height="59" fill="#c0c0c0"/><rect x="868" y="640" width="1" height="71" fill="#c0c0c0"/><rect x="876" y="640" width="1" height="72" fill="#c0c0c0"/><rect x="884" y="640" width="1" height="73" fill="#c0c0c0"/><rect x="892" y="640" width="1" height="70" fill="#c0c0c0"/><rect x="900" y="640" width="1" height="61" fill="#c0c0c0"/><rect x="908" y="640" width="1" height="53" fill="#c0c0c0"/><rect x="916" y="640" width="1" height="44" fill="#c0c0c0"/><rect x="924" y="640" width="1" height="38" fill="#c0c0c0"/><rect x="932" y="640" width="1" height="27" fill="#c0c0c0"/><rect x="940" y="640" width="1" height="17" fill="#c0c0c0"/><rect x="948" y="640" width="1" height="13" fill="#c0c0c0"/><rect x="956" y="640" width="1" height="13" fill="#c0c0c0"/><rect x="964" y="640" width="1" height="12" fill="#c0c0c0"/><rect x="972" y="640" width="1" height="11" fill="#c0c0c0"/><rect x="980" y="640" width="1" height="9" fill="#c0c0c0"/><rect x="988" y="640" width="1" height="11" fill="#c0c0c0"/><rect x="996" y="640" width="1" height="12" fill="#c0c0c0"/><rect x="1004" y="640" width="1" height="9" fill="#c0c0c0"/><rect x="1012" y="640" width="1" height="8" fill="#c0c0c0"/><rect x="1020" y="640" width="1" height="10" fill="#c0c0c0"/><rect x="1028" y="640" width="1" height="11" fill="#c0c0c0"/><rect x="1036" y="640" width="1" height="17" fill="#c0c0c0"/><rect x="1044" y="640" width="1" height="21" fill="#c0c0c0"/><rect x="1052" y="640" width="1" height="25" fill="#c0c0c0"/><rect x="1060" y="640" width="1" height="26" fill="#c0c0c0"/><rect x="1068" y="640" width="1" height="24" fill="#c0c0c0"/><rect x="1076" y="640" width="1" height="21" fill="#c0c0c0"/><rect x="1084" y="640" width="1" height="19" fill="#c0c0c0"/><rect x="1092" y="640" width="1" height="17" fill="#c0c0c0"/><rect x="1100" y="640" width="1" height="16" fill="#c0c0c0"/><rect x="1108" y="640" width="1" height="12" fill="#c0c0c0"/><rect x="1116" y="640" width="1" height="7" fill="#c0c0c0"/><rect x="1124" y="640" width="1" height="3" fill="#c0c0c0"/><rect x="1132" y="640" width="1" height="3" fill="#c0c0c0"/><rect x="1140" y="637" width="1" height="4" fill="#c0c0c0"/><rect x="1148" y="638" width="1" height="3" fill="#c0c0c0"/><rect x="1156" y="640" width="1" height="1" fill="#c0c0c0"/><rect x="1164" y="640" width="1" height="2" fill="#c0c0c0"/><rect x="1172" y="640" width="1" height="7" fill="#c0c0c0"/><rect x="1180" y="640" width="1" height="7" fill="#c0c0c0"/><rect x="1188" y="640" width="1" height="1" fill="#c0c0c0"/><rect x="1196" y="640" width="1" height="1" fill="#c0c0c0"/><rect x="1204" y="639" width="1" height="2" fill="#c0c0c0"/><rect x="1212" y="636" width="1" height="5" fill="#c0c0c0"/><rect x="1220" y="634" width="1" height="7" fill="#c0c0c0"/><rect x="1228" y="630" width="1" height="11" fill="#c0c0c0"/><rect x="1236" y="625" width="1" height="16" fill="#c0c0c0"/><rect x="1244" y="627" width="1" height="14" fill="#c0c0c0"/><rect x="1252" y="622" width="1" height="19" fill="#c0c0c0"/><rect x="1260" y="614" width="1" height="27" fill="#c0c0c0"/><rect x="1268" y="609" width="1" height="32" fill="#c0c0c0"/><rect x="1276" y="604" width="1" height="37" fill="#c0c0c0"/><rect x="1284" y="599" width="1" height="42" fill="#c0c0c0"/><rect x="1292" y="594" width="1" height="47" fill="#c0c0c0"/><rect x="1300" y="596" width="1" height="45" fill="#c0c0c0"/><rect x="1308" y="595" width="1" height="46" fill="#c0c0c0"/><rect x="1316" y="598" width="1" height="43" fill="#c0c0c0"/><rect x="1324" y="601" width="1" height="40" fill="#c0c0c0"/><rect x="1332" y="607" width="1" height="34" fill="#c0c0c0"/><rect x="1340" y="614" width="1" height="27" fill="#c0c0c0"/><rect x="1348" y="621" width="1" height="20" fill="#c0c0c0"/><rect x="1356" y="634" width="1" height="7" fill="#c0c0c0"/><rect x="1364" y="640" width="1" height="1" fill="#c0c0c0"/><rect x="1372" y="640" width="1" height="11" fill="#c0c0c0"/><rect x="1380" y="640" width="1" height="16" fill="#c0c0c0"/><rect x="1388" y="640" width="1" height="21" fill="#c0c0c0"/><rect x="1396" y="640" width="1" height="23" fill="#c0c0c0"/><rect x="1404" y="640" width="1" height="21" fill="#c0c0c0"/></g><polyline clip-path="url(#cd)" points="0.0,726.2 27.0,713.6 54.0,705.5 72.0,700.1 90.0,695.3 117.0,693.8 144.0,691.1 162.0,685.7 180.0,677.6 198.0,668.6 216.0,659.6 236.0,647.4 246.8,638.9 259.4,629.9 272.0,620.9 282.8,611.9 295.4,605.6 308.0,600.2 324.2,598.4 336.8,599.8 351.2,601.1 367.4,605.2 380.0,609.2 398.0,618.2 416.0,629.0 428.7,636.2 439.5,642.5 462.9,644.3 476.0,642.0 492.2,639.8 499.4,636.6 548.0,634.8 587.6,634.8 602.0,641.3 620.0,656.0 638.0,679.4 656.0,703.7 674.0,725.3 692.0,733.1 708.3,734.3 723.2,737.4 743.0,737.0 752.0,733.8 779.0,733.4 788.0,730.7 797.0,729.5 806.0,725.3 816.8,723.0 833.0,720.8 851.0,711.8 860.0,707.9 869.0,706.4 892.4,705.5 905.0,703.2 924.9,700.1 941.0,690.2 957.8,675.8 974.0,663.2 992.0,653.9 1010.0,650.3 1037.0,650.6 1053.2,653.3 1067.6,656.4 1082.0,659.3 1100.0,660.0 1118.0,657.8 1134.3,653.3 1145.0,647.9 1161.3,643.4 1196.0,641.3 1223.0,640.2 1241.0,636.2 1259.0,629.9 1277.0,620.9 1295.0,611.9 1311.2,603.8 1322.0,600.6 1332.8,599.3 1349.0,602.5 1361.6,608.3 1376.0,620.0 1390.5,632.3 1404.5,643.4" fill="none" stroke="#ff0000" stroke-width="1" stroke-dasharray="3,2" shape-rendering="crispEdges"/><g clip-path="url(#cr)" shape-rendering="crispEdges"><line x1="0" y1="791.5" x2="1647" y2="791.5" stroke="#b4b4b4" stroke-width="1" stroke-dasharray="3,3"/><line x1="0" y1="842.5" x2="1647" y2="842.5" stroke="#b4b4b4" stroke-width="1" stroke-dasharray="3,3"/><line x1="0" y1="903.5" x2="1647" y2="903.5" stroke="#b4b4b4" stroke-width="1" stroke-dasharray="3,3"/></g><polyline clip-path="url(#cr)" points="0.0,865.4 4.5,865.4 12.5,862.3 20.5,865.8 28.5,854.5 36.5,862.3 44.5,846.4 52.5,863.4 60.5,859.4 68.5,858.3 76.5,860.4 84.5,861.5 92.5,863.0 100.5,866.5 108.5,867.6 116.5,858.3 124.5,857.3 132.5,854.5 140.5,858.3 148.5,848.8 156.5,847.4 164.5,848.1 172.5,844.3 180.5,844.3 188.5,838.9 196.5,835.3 204.5,842.4 212.5,829.7 220.5,816.2 228.5,826.1 236.5,822.3 244.5,814.8 252.5,810.5 260.5,817.6 268.5,809.6 276.5,816.2 284.5,821.9 292.5,833.2 300.5,829.4 308.5,832.5 316.5,829.4 324.5,831.4 332.5,831.4 340.5,824.0 348.5,822.3 356.5,824.3 364.5,822.3 372.5,864.0 380.5,858.3 388.5,860.1 396.5,855.5 404.5,856.3 412.5,853.5 420.5,852.3 428.5,838.9 436.5,835.6 444.5,838.5 452.5,825.7 460.5,843.1 468.5,847.4 476.5,842.1 484.5,834.6 492.5,833.2 500.5,837.5 508.5,846.4 516.5,841.0 524.5,837.5 532.5,840.3 540.5,839.3 548.5,833.9 556.5,832.2 564.5,847.4 572.5,848.4 580.5,846.4 588.5,862.3 596.5,877.8 604.5,888.0 612.5,889.5 620.5,898.4 628.5,898.4 636.5,871.5 644.5,873.9 652.5,875.4 660.5,876.4 668.5,880.4 676.5,877.1 684.5,864.4 692.5,866.5 700.5,876.1 708.5,876.1 716.5,884.2 724.5,883.5 732.5,869.3 740.5,859.4 748.5,858.4 756.5,858.4 764.5,870.0 772.5,879.3 780.5,875.0 788.5,863.0 796.5,859.1 804.5,857.3 812.5,861.1 820.5,856.3 828.5,860.1 836.5,858.0 844.5,853.5 852.5,856.6 860.5,870.8 868.5,880.0 876.5,863.4 884.5,864.4 892.5,859.4 900.5,845.5 908.5,848.1 916.5,842.4 924.5,841.3 932.5,833.6 940.5,832.2 948.5,843.1 956.5,844.3 964.5,844.3 972.5,846.4 980.5,843.1 988.5,850.6 996.5,849.5 1004.5,841.3 1012.5,843.6 1020.5,851.2 1028.5,852.3 1036.5,860.1 1044.5,863.4 1052.5,858.0 1060.5,854.9 1068.5,850.6 1076.5,844.5 1084.5,847.4 1092.5,845.3 1100.5,849.2 1108.5,836.8 1116.5,833.2 1124.5,834.6 1132.5,842.4 1140.5,828.3 1148.5,843.1 1156.5,849.5 1164.5,849.5 1172.5,855.2 1180.5,845.5 1188.5,835.3 1196.5,834.2 1204.5,838.5 1212.5,835.1 1220.5,833.2 1228.5,828.3 1236.5,821.5 1244.5,840.3 1252.5,826.6 1260.5,817.2 1268.5,821.5 1276.5,819.0 1284.5,815.2 1292.5,814.4 1300.5,830.4 1308.5,824.3 1316.5,831.4 1324.5,830.0 1332.5,845.3 1340.5,847.4 1348.5,848.4 1356.5,861.1 1364.5,862.3 1372.5,866.5 1380.5,859.1 1388.5,862.3 1396.5,856.3 1404.5,857.7" fill="none" stroke="#1e90ff" stroke-width="1" shape-rendering="crispEdges"/><g font-family='"Liberation Sans", sans-serif'><rect x="1648" y="50" width="2" height="1" fill="#000"/><text x="1653" y="54" font-size="9" fill="#000" text-anchor="start" font-weight="normal" >154.780</text><rect x="1648" y="83" width="2" height="1" fill="#000"/><text x="1653" y="87" font-size="9" fill="#000" text-anchor="start" font-weight="normal" >154.410</text><rect x="1648" y="116" width="2" height="1" fill="#000"/><text x="1653" y="120" font-size="9" fill="#000" text-anchor="start" font-weight="normal" >154.040</text><rect x="1648" y="149" width="2" height="1" fill="#000"/><text x="1653" y="153" font-size="9" fill="#000" text-anchor="start" font-weight="normal" >153.670</text><rect x="1648" y="182" width="2" height="1" fill="#000"/><text x="1653" y="186" font-size="9" fill="#000" text-anchor="start" font-weight="normal" >153.300</text><rect x="1648" y="215" width="2" height="1" fill="#000"/><text x="1653" y="219" font-size="9" fill="#000" text-anchor="start" font-weight="normal" >152.930</text><rect x="1648" y="248" width="2" height="1" fill="#000"/><text x="1653" y="252" font-size="9" fill="#000" text-anchor="start" font-weight="normal" >152.550</text><rect x="1648" y="281" width="2" height="1" fill="#000"/><text x="1653" y="285" font-size="9" fill="#000" text-anchor="start" font-weight="normal" >152.180</text><rect x="1648" y="314" width="2" height="1" fill="#000"/><text x="1653" y="318" font-size="9" fill="#000" text-anchor="start" font-weight="normal" >151.810</text><rect x="1648" y="347" width="2" height="1" fill="#000"/><text x="1653" y="351" font-size="9" fill="#000" text-anchor="start" font-weight="normal" >151.440</text><rect x="1648" y="380" width="2" height="1" fill="#000"/><text x="1653" y="384" font-size="9" fill="#000" text-anchor="start" font-weight="normal" >151.070</text><rect x="1648" y="413" width="2" height="1" fill="#000"/><text x="1653" y="417" font-size="9" fill="#000" text-anchor="start" font-weight="normal" >150.700</text><rect x="1648" y="446" width="2" height="1" fill="#000"/><text x="1653" y="450" font-size="9" fill="#000" text-anchor="start" font-weight="normal" >150.330</text><rect x="1648" y="479" width="2" height="1" fill="#000"/><text x="1653" y="483" font-size="9" fill="#000" text-anchor="start" font-weight="normal" >149.960</text><rect x="1648" y="512" width="2" height="1" fill="#000"/><text x="1653" y="516" font-size="9" fill="#000" text-anchor="start" font-weight="normal" >149.590</text><rect x="1648" y="545" width="2" height="1" fill="#000"/><text x="1653" y="549" font-size="9" fill="#000" text-anchor="start" font-weight="normal" >149.220</text><rect x="1648" y="578" width="2" height="1" fill="#000"/><text x="1653" y="582" font-size="9" fill="#000" text-anchor="start" font-weight="normal" >148.850</text><rect x="1649" y="387" width="41" height="11" fill="#ff0000"/><text x="1653" y="396" font-size="9" fill="#fff" text-anchor="start" font-weight="normal" >150.928</text><rect x="1643.5" y="390.5" width="4" height="5" fill="#fff" stroke="#ff0000" stroke-width="1"/><rect x="1649" y="417" width="41" height="11" fill="#ff0000"/><text x="1653" y="426" font-size="9" fill="#fff" text-anchor="start" font-weight="normal" >150.592</text><rect x="1643.5" y="420.5" width="4" height="5" fill="#fff" stroke="#ff0000" stroke-width="1"/><rect x="1649" y="444" width="41" height="11" fill="#32cd32"/><text x="1653" y="453" font-size="9" fill="#fff" text-anchor="start" font-weight="normal" >150.289</text><rect x="1643.5" y="447.5" width="4" height="5" fill="#fff" stroke="#32cd32" stroke-width="1"/><rect x="1649" y="460" width="41" height="11" fill="#000000"/><text x="1653" y="469" font-size="9" fill="#fff" text-anchor="start" font-weight="normal" >150.101</text><rect x="1649" y="484" width="41" height="11" fill="#0000ff"/><text x="1653" y="493" font-size="9" fill="#fff" text-anchor="start" font-weight="normal" >149.840</text><rect x="1643.5" y="487.5" width="4" height="5" fill="#fff" stroke="#0000ff" stroke-width="1"/><rect x="1649" y="509" width="41" height="11" fill="#0000ff"/><text x="1653" y="518" font-size="9" fill="#fff" text-anchor="start" font-weight="normal" >149.560</text><rect x="1643.5" y="512.5" width="4" height="5" fill="#fff" stroke="#0000ff" stroke-width="1"/><rect x="1648" y="585" width="3" height="1" fill="#000"/><text x="1651" y="594" font-size="9" fill="#000" text-anchor="start" font-weight="normal" >0.3795</text><rect x="1648" y="640" width="3" height="1" fill="#000"/><text x="1651" y="644" font-size="9" fill="#000" text-anchor="start" font-weight="normal" >0.00</text><text x="1651" y="750" font-size="9" fill="#000" text-anchor="start" font-weight="normal" >-0.7745</text><text x="1650" y="767" font-size="9" fill="#000" text-anchor="start" font-weight="normal" >100</text><text x="1650" y="795" font-size="9" fill="#000" text-anchor="start" font-weight="normal" >80</text><text x="1650" y="846" font-size="9" fill="#000" text-anchor="start" font-weight="normal" >50</text><text x="1650" y="907" font-size="9" fill="#000" text-anchor="start" font-weight="normal" >15</text><text x="1650" y="926" font-size="9" fill="#000" text-anchor="start" font-weight="normal" >0</text><text x="35" y="942" font-size="9.3" fill="#000" text-anchor="end" font-weight="normal" >9 Nov 2021</text><rect x="52" y="930" width="1" height="3" fill="#000"/><text x="52" y="942" font-size="9.3" fill="#000" text-anchor="start" font-weight="normal" >10 Nov 16:00</text><rect x="116" y="930" width="1" height="3" fill="#000"/><text x="116" y="942" font-size="9.3" fill="#000" text-anchor="start" font-weight="normal" >12 Nov 00:00</text><rect x="180" y="930" width="1" height="3" fill="#000"/><text x="180" y="942" font-size="9.3" fill="#000" text-anchor="start" font-weight="normal" >15 Nov 08:00</text><rect x="244" y="930" width="1" height="3" fill="#000"/><text x="244" y="942" font-size="9.3" fill="#000" text-anchor="start" font-weight="normal" >16 Nov 16:00</text><rect x="308" y="930" width="1" height="3" fill="#000"/><text x="308" y="942" font-size="9.3" fill="#000" text-anchor="start" font-weight="normal" >18 Nov 00:00</text><rect x="372" y="930" width="1" height="3" fill="#000"/><text x="372" y="942" font-size="9.3" fill="#000" text-anchor="start" font-weight="normal" >19 Nov 08:00</text><rect x="436" y="930" width="1" height="3" fill="#000"/><text x="436" y="942" font-size="9.3" fill="#000" text-anchor="start" font-weight="normal" >22 Nov 16:00</text><rect x="500" y="930" width="1" height="3" fill="#000"/><text x="500" y="942" font-size="9.3" fill="#000" text-anchor="start" font-weight="normal" >24 Nov 00:00</text><rect x="564" y="930" width="1" height="3" fill="#000"/><text x="564" y="942" font-size="9.3" fill="#000" text-anchor="start" font-weight="normal" >25 Nov 08:00</text><rect x="628" y="930" width="1" height="3" fill="#000"/><text x="628" y="942" font-size="9.3" fill="#000" text-anchor="start" font-weight="normal" >26 Nov 16:00</text><rect x="692" y="930" width="1" height="3" fill="#000"/><text x="692" y="942" font-size="9.3" fill="#000" text-anchor="start" font-weight="normal" >30 Nov 00:00</text><rect x="756" y="930" width="1" height="3" fill="#000"/><text x="756" y="942" font-size="9.3" fill="#000" text-anchor="start" font-weight="normal" >1 Dec 08:00</text><rect x="820" y="930" width="1" height="3" fill="#000"/><text x="820" y="942" font-size="9.3" fill="#000" text-anchor="start" font-weight="normal" >2 Dec 16:00</text><rect x="884" y="930" width="1" height="3" fill="#000"/><text x="884" y="942" font-size="9.3" fill="#000" text-anchor="start" font-weight="normal" >6 Dec 00:00</text><rect x="948" y="930" width="1" height="3" fill="#000"/><text x="948" y="942" font-size="9.3" fill="#000" text-anchor="start" font-weight="normal" >7 Dec 08:00</text><rect x="1012" y="930" width="1" height="3" fill="#000"/><text x="1012" y="942" font-size="9.3" fill="#000" text-anchor="start" font-weight="normal" >8 Dec 16:00</text><rect x="1076" y="930" width="1" height="3" fill="#000"/><text x="1076" y="942" font-size="9.3" fill="#000" text-anchor="start" font-weight="normal" >10 Dec 00:00</text><rect x="1140" y="930" width="1" height="3" fill="#000"/><text x="1140" y="942" font-size="9.3" fill="#000" text-anchor="start" font-weight="normal" >13 Dec 08:00</text><rect x="1204" y="930" width="1" height="3" fill="#000"/><text x="1204" y="942" font-size="9.3" fill="#000" text-anchor="start" font-weight="normal" >14 Dec 16:00</text><rect x="1268" y="930" width="1" height="3" fill="#000"/><text x="1268" y="942" font-size="9.3" fill="#000" text-anchor="start" font-weight="normal" >16 Dec 00:00</text><rect x="1332" y="930" width="1" height="3" fill="#000"/><text x="1332" y="942" font-size="9.3" fill="#000" text-anchor="start" font-weight="normal" >17 Dec 08:00</text><rect x="1396" y="930" width="1" height="3" fill="#000"/><text x="1396" y="942" font-size="9.3" fill="#000" text-anchor="start" font-weight="normal" >20 Dec 16:00</text><text x="3" y="40" font-size="9.2" fill="#000" text-anchor="start" font-weight="normal" >GBPJPY-,H4&#160;&#160;150.103 150.173 150.086 150.101</text><text x="1" y="596" font-size="9.3" fill="#000" text-anchor="start" font-weight="normal" >ACD(12,26,9) -0.1697 -0.0290</text><text x="-1" y="768" font-size="9.3" fill="#000" text-anchor="start" font-weight="normal" >SI(14) 41.7723</text></g><g font-family='"Liberation Sans", sans-serif'><rect x="1221.5" y="233.5" width="61" height="18" fill="#fff" stroke="#ff0000" stroke-width="1"/><text x="1224" y="249" font-size="16.5" fill="#ff0000" text-anchor="start" font-weight="normal"  textLength="56" lengthAdjust="spacingAndGlyphs">152.621</text><polyline points="1283,242.5 1292.5,242.5" fill="none" stroke="#ff0000" stroke-width="1"/><rect x="797.5" y="556.5" width="61" height="18" fill="#fff" stroke="#ff0000" stroke-width="1"/><text x="800" y="572" font-size="16.5" fill="#ff0000" text-anchor="start" font-weight="normal"  textLength="57" lengthAdjust="spacingAndGlyphs">148.990</text><polyline points="859,565.5 868,565.5" fill="none" stroke="#ff0000" stroke-width="1"/><rect x="1263.5" y="438.5" width="73" height="24" fill="#fff" stroke="#ff0000" stroke-width="1"/><text x="1265.5" y="459" font-size="20.5" fill="#ff0000" text-anchor="start" font-weight="normal"  textLength="69.5" lengthAdjust="spacingAndGlyphs">150.289</text><polyline points="1252,450.5 1263,450.5" fill="none" stroke="#ff0000" stroke-width="1"/><rect x="1260.5" y="448.5" width="3" height="4" fill="#fff" stroke="#ff0000"/><rect x="1309.5" y="511.5" width="61" height="18" fill="#fff" stroke="#ff0000" stroke-width="1"/><text x="1312" y="527" font-size="16.5" fill="#ff0000" text-anchor="start" font-weight="normal"  textLength="56" lengthAdjust="spacingAndGlyphs">149.504</text><polyline points="1371,519.5 1380.5,519.5 1380.5,512" fill="none" stroke="#ff0000" stroke-width="1"/><rect x="1370.5" y="517.5" width="3" height="4" fill="#fff" stroke="#ff0000"/><rect x="1353" y="450" width="118" height="6" fill="#00ff00"/><line x1="1292" y1="259" x2="1374.5" y2="503.6" stroke="#ff0000" stroke-width="3" stroke-linecap="round"/><polygon points="1378,514 1368.8,505.5 1380.2,501.7" fill="#ff0000"/><line x1="1378" y1="514" x2="1395.5" y2="461.4" stroke="#ff0000" stroke-width="3" stroke-linecap="round"/><polygon points="1399,451 1401.2,463.3 1389.8,459.5" fill="#ff0000"/><line x1="1399" y1="451" x2="1410.6" y2="458.9" stroke="#ff0000" stroke-width="3" stroke-linecap="round"/><polygon points="1418,464 1407.7,463.0 1413.4,454.8" fill="#ff0000"/><line x1="1311" y1="605" x2="1409.6" y2="664.3" stroke="#ff0000" stroke-width="4" stroke-linecap="round"/><polygon points="1419,670 1406.5,669.5 1412.7,659.2" fill="#ff0000"/><line x1="1302" y1="818" x2="1389.1" y2="859.3" stroke="#ff0000" stroke-width="4" stroke-linecap="round"/><polygon points="1399,864 1386.5,864.7 1391.6,853.9" fill="#ff0000"/><rect x="58" y="132" width="1" height="1" fill="#000"/><rect x="57" y="133" width="1" height="1" fill="#000"/><rect x="59" y="133" width="1" height="1" fill="#000"/><rect x="58" y="134" width="1" height="1" fill="#000"/><polygon points="1409,29 1418,29 1413.5,34" fill="#c0c0c0"/></g>
<defs><pattern id="chk" width="2" height="2" patternUnits="userSpaceOnUse"><rect width="2" height="2" fill="#f4f4f4"/><rect width="1" height="1" fill="#e4e4e4"/><rect x="1" y="1" width="1" height="1" fill="#e4e4e4"/></pattern><linearGradient id="gold" x1="0" y1="0" x2="1" y2="1"><stop offset="0" stop-color="#f8e070"/><stop offset="1" stop-color="#c88a18"/></linearGradient><linearGradient id="blu" x1="0" y1="0" x2="0" y2="1"><stop offset="0" stop-color="#40b0f8"/><stop offset="1" stop-color="#1070d0"/></linearGradient><radialGradient id="redb" cx="0.5" cy="0.3" r="0.7"><stop offset="0" stop-color="#f06040"/><stop offset="1" stop-color="#d02010"/></radialGradient></defs><rect x="0" y="0" width="1694" height="23" fill="#f0f0f0"/><rect x="0" y="23" width="1694" height="1" fill="#f4f4f4"/><rect x="0" y="24" width="1694" height="1" fill="#a4a4a4"/><rect x="0" y="25" width="1694" height="1" fill="#686868"/><rect x="0" y="26" width="1694" height="2" fill="#ffffff"/><rect x="8" y="1" width="1" height="21" fill="#a8a8a8"/><path d="M18.5,4.5 h8 l3.5,3.5 v9 h-11.5 z" fill="#fff" stroke="#707070" stroke-width="1"/><path d="M20,7 h3 M20,10.5 h6 M20,12.5 h6 M20,14.5 h4" stroke="#909090" stroke-width="1"/><path d="M22.7,14 h3.5 v-3.5 h4 v3.5 h3.5 v4 h-3.5 v3.5 h-4 v-3.5 h-3.5 z" fill="#20c020" stroke="#108010" stroke-width="0.8"/><g stroke="#000" stroke-width="1.1" fill="none" stroke-linecap="square"><path d="M39.5,5 v1 M37.5,6.5 h5 M38.5,7.5 l0.5,1.2 M41.5,7.5 l-0.5,1.2 M37,9.5 h5.5 M37.5,11.5 h4.5 M39.75,9.5 v7 M39.5,12 l-2.5,3 M40,12 l2,2 M47.5,5.5 l-3.5,1.5 v5 q0,3 -1,4.5 M44,10.5 h4.5 M46.5,10.5 v6"/><path d="M50,5.5 l1,1 M49.5,9 h1.5 v5.5 l1.5,-1.5 M53,6.5 h7 M57,6.5 v9 l-1.5,-0.5"/><path d="M63.5,5 l1,1.5 M69.5,5 l-1,1.5 M62.5,7.5 h8 v5 h-8 z M62.5,10 h8 M66.5,7.5 v9 M61,14 h11"/></g><polygon points="85,14 91,5 101,12.5 95,19.5" fill="url(#gold)" stroke="#a06818" stroke-width="1"/><path d="M86,15 L95,19" stroke="#f8f0c0" stroke-width="1"/><rect x="114.5" y="4.5" width="11" height="11" fill="url(#blu)" stroke="#1060c0"/><rect x="118" y="8" width="6" height="3" fill="#e0f0ff"/><path d="M114,19.5 q-1.5,-3 1.5,-4 q1,-3 4.5,-2.5 q2,-2 5,0 q3,0 3,3 q1.5,3 -1,3.5 z" fill="#e8eef8" stroke="#4a6aa0" stroke-width="1"/><g fill="none" stroke-width="1"><circle cx="149" cy="12" r="7.5" stroke="#6090d8"/><circle cx="149" cy="12" r="5" stroke="#80a8e0"/><path d="M149,4.5 a7.5,7.5 0 0 1 7.5,7.5 a7.5,7.5 0 0 1 -7.5,7.5" stroke="#60b060"/></g><circle cx="149" cy="11.5" r="1.8" fill="#2050c0"/><path d="M149.5,12 V19.5" stroke="#20a020" stroke-width="1.5"/><ellipse cx="176" cy="9" rx="8" ry="3" fill="#5ab0e0" stroke="#3080b0"/><ellipse cx="175.5" cy="7" rx="4.5" ry="3" fill="#70c0f0" stroke="#3080b0"/><polygon points="168.5,12 183,12 181,17 174,19.5" fill="#f8e868" stroke="#c8a020"/><circle cx="180.5" cy="15.7" r="4.2" fill="#e02818"/><rect x="178.7" y="13.9" width="3.6" height="3.6" fill="#fff"/><g stroke="#000" stroke-width="1.1" fill="none" stroke-linecap="square"><path d="M195.5,4.5 l-1,1.5 M191.5,6.5 h8 v10 h-8 z M191.5,9.5 h8 M191.5,13 h8"/><path d="M202.5,7 h5 M202,10 h6 M204.5,10 l-2,5 l5,-1 M206.5,12.5 l1,2 M210.5,5 v4 q0,5 -2,7.5 M208,8.5 h5 v7 l-1.5,-0.5"/><path d="M219.5,4.5 v1.5 M214,6.5 h11 M217,8 l-2,2 M222,8 l2,2 M216.5,10.5 q3,5 8,6 M222.5,10.5 q-3,5 -8,6"/><path d="M228.5,5.5 h7 v5 h-7 z M228.5,8 h7 M229,11 l-2,2 M228,12.5 h8 q0,3 -1.5,4 M230.5,12.5 l-2,3 M233,12.5 l-2.5,3.5"/></g><rect x="244" y="0" width="1" height="23" fill="#a0a0a0"/><rect x="245" y="0" width="1" height="23" fill="#ffffff"/><rect x="248" y="2" width="3" height="1" fill="#a0a0a0"/><rect x="248" y="4" width="3" height="1" fill="#a0a0a0"/><rect x="248" y="6" width="3" height="1" fill="#a0a0a0"/><rect x="248" y="8" width="3" height="1" fill="#a0a0a0"/><rect x="248" y="10" width="3" height="1" fill="#a0a0a0"/><rect x="248" y="12" width="3" height="1" fill="#a0a0a0"/><rect x="248" y="14" width="3" height="1" fill="#a0a0a0"/><rect x="248" y="16" width="3" height="1" fill="#a0a0a0"/><rect x="248" y="18" width="3" height="1" fill="#a0a0a0"/><rect x="248" y="20" width="3" height="1" fill="#a0a0a0"/><path d="M262.5,6 V19.5 M260,17.5 H274" stroke="#4a4a4a" stroke-width="1.2" fill="none"/><polygon points="262.5,5 260.5,8 264.5,8" fill="#4a4a4a"/><polygon points="275,17.5 272,15.5 272,19.5" fill="#4a4a4a"/><path d="M268.5,7 V16 M268.5,8.5 H271.5 M265.5,14.5 H268.5" stroke="#109010" stroke-width="1.3" fill="none"/><rect x="282" y="0" width="25" height="22" fill="url(#chk)"/><rect x="282" y="0" width="1" height="22" fill="#a0a0a0"/><rect x="282" y="0" width="25" height="1" fill="#a0a0a0"/><rect x="307" y="0" width="1" height="22" fill="#ffffff"/><rect x="282" y="22" width="26" height="1" fill="#ffffff"/><path d="M290.5,6 V19.5 M288,17.5 H302" stroke="#4a4a4a" stroke-width="1.2" fill="none"/><polygon points="290.5,5 288.5,8 292.5,8" fill="#4a4a4a"/><polygon points="303,17.5 300,15.5 300,19.5" fill="#4a4a4a"/><path d="M296.5,4 V16" stroke="#109010" stroke-width="1.2"/><rect x="294.5" y="6.5" width="4.5" height="7.5" fill="#40e040" stroke="#109010"/><path d="M318.5,6 V19.5 M316,17.5 H330" stroke="#4a4a4a" stroke-width="1.2" fill="none"/><polygon points="318.5,5 316.5,8 320.5,8" fill="#4a4a4a"/><polygon points="331,17.5 328,15.5 328,19.5" fill="#4a4a4a"/><path d="M317,14.5 Q322,7 324,9 Q326,11 329,12.5" stroke="#30a030" stroke-width="1.3" fill="none"/><rect x="339" y="1" width="1" height="21" fill="#a8a8a8"/><path d="M357,13 L363,19" stroke="#a07010" stroke-width="3.2"/><path d="M357,13 L363,19" stroke="#f0d840" stroke-width="1.6"/><circle cx="354" cy="10" r="5.5" fill="#d8f0fc" stroke="#3070c0" stroke-width="1.1"/><path d="M351,10 H357 M354,7 V13" stroke="#4888b0" stroke-width="1.5"/><path d="M385,13 L391,19" stroke="#a07010" stroke-width="3.2"/><path d="M385,13 L391,19" stroke="#f0d840" stroke-width="1.6"/><circle cx="382" cy="10" r="5.5" fill="#d8f0fc" stroke="#3070c0" stroke-width="1.1"/><path d="M379,10 H385" stroke="#4888b0" stroke-width="1.5"/><rect x="404" y="4" width="8" height="8" fill="#30a020"/><rect x="405.5" y="7" width="5" height="3.5" fill="#fff"/><rect x="412" y="4" width="8" height="8" fill="#2050d0"/><rect x="413.5" y="7" width="5" height="3.5" fill="#fff"/><rect x="404" y="12" width="8" height="8" fill="#2050d0"/><rect x="405.5" y="15" width="5" height="3.5" fill="#fff"/><rect x="412" y="12" width="8" height="8" fill="#30a020"/><rect x="413.5" y="15" width="5" height="3.5" fill="#fff"/><rect x="429" y="1" width="1" height="21" fill="#a8a8a8"/><rect x="434" y="0" width="25" height="22" fill="url(#chk)"/><rect x="434" y="0" width="1" height="22" fill="#a0a0a0"/><rect x="434" y="0" width="25" height="1" fill="#a0a0a0"/><rect x="459" y="0" width="1" height="22" fill="#ffffff"/><rect x="434" y="22" width="26" height="1" fill="#ffffff"/><path d="M442.5,6 V19.5 M440,17.5 H454" stroke="#4a4a4a" stroke-width="1.2" fill="none"/><polygon points="442.5,5 440.5,8 444.5,8" fill="#4a4a4a"/><polygon points="455,17.5 452,15.5 452,19.5" fill="#4a4a4a"/><polygon points="447.5,8 451.5,11.5 447.5,15" fill="#50d050" stroke="#109010" stroke-width="0.8"/><rect x="462" y="0" width="25" height="22" fill="url(#chk)"/><rect x="462" y="0" width="1" height="22" fill="#a0a0a0"/><rect x="462" y="0" width="25" height="1" fill="#a0a0a0"/><rect x="487" y="0" width="1" height="22" fill="#ffffff"/><rect x="462" y="22" width="26" height="1" fill="#ffffff"/><path d="M470.5,6 V19.5 M468,17.5 H482" stroke="#4a4a4a" stroke-width="1.2" fill="none"/><polygon points="470.5,5 468.5,8 472.5,8" fill="#4a4a4a"/><polygon points="483,17.5 480,15.5 480,19.5" fill="#4a4a4a"/><path d="M476.5,6 V16" stroke="#1070b0" stroke-width="1.2"/><path d="M482,11.5 H478" stroke="#e04010" stroke-width="1.2"/><polygon points="477.5,11.5 480,9.5 480,13.5" fill="#e04010"/><rect x="491" y="1" width="1" height="21" fill="#a8a8a8"/><path d="M501.5,4.5 h8 l3.5,3.5 v9 h-11.5 z" fill="#fff" stroke="#707070" stroke-width="1"/><path d="M505.7,13.5 h3.5 v-3.5 h4 v3.5 h3.5 v4 h-3.5 v3.5 h-4 v-3.5 h-3.5 z" fill="#20c020" stroke="#108010" stroke-width="0.8"/><polygon points="523,11 528,11 525.5,14" fill="#000"/><circle cx="547" cy="12" r="7" fill="#fff" stroke="#1060c8" stroke-width="2.2"/><path d="M546.5,8 V12 H549.5" stroke="#303030" stroke-width="1.1" fill="none"/><polygon points="562,11 567,11 564.5,14" fill="#000"/><rect x="578.5" y="5.5" width="15" height="13" fill="#fff" stroke="#3070c0"/><rect x="579" y="6" width="14" height="1.5" fill="#5090d8"/><path d="M580,12 l3,-1 l3,1 l3,-1.5 l3,0.5" stroke="#a03010" stroke-width="1.1" fill="none"/><path d="M580,16.5 l3,-1 l3,1 l3,-2 l2.5,1.5" stroke="#20a020" stroke-width="1.1" fill="none"/><rect x="579" y="13.5" width="14" height="1" fill="#a0b8e0"/><polygon points="601,11 606,11 603.5,14" fill="#000"/><rect x="612" y="0" width="1" height="23" fill="#a0a0a0"/><rect x="613" y="0" width="1" height="23" fill="#ffffff"/><rect x="616" y="2" width="3" height="1" fill="#a0a0a0"/><rect x="616" y="4" width="3" height="1" fill="#a0a0a0"/><rect x="616" y="6" width="3" height="1" fill="#a0a0a0"/><rect x="616" y="8" width="3" height="1" fill="#a0a0a0"/><rect x="616" y="10" width="3" height="1" fill="#a0a0a0"/><rect x="616" y="12" width="3" height="1" fill="#a0a0a0"/><rect x="616" y="14" width="3" height="1" fill="#a0a0a0"/><rect x="616" y="16" width="3" height="1" fill="#a0a0a0"/><rect x="616" y="18" width="3" height="1" fill="#a0a0a0"/><rect x="616" y="20" width="3" height="1" fill="#a0a0a0"/><rect x="622" y="0" width="25" height="22" fill="url(#chk)"/><rect x="622" y="0" width="1" height="22" fill="#a0a0a0"/><rect x="622" y="0" width="25" height="1" fill="#a0a0a0"/><rect x="647" y="0" width="1" height="22" fill="#ffffff"/><rect x="622" y="22" width="26" height="1" fill="#ffffff"/><polygon points="630,5 638,12.5 634.7,12.5 637,18.2 635,19 632.6,13.3 630,16" fill="#4a4a4a"/><path d="M655,12.5 H661 M664,12.5 H670 M662.5,5 V11 M662.5,14 V20" stroke="#404040" stroke-width="1.1"/><rect x="679" y="1" width="1" height="21" fill="#a8a8a8"/><path d="M696.5,6 V19" stroke="#404040" stroke-width="1.2"/><path d="M719,12.5 H731" stroke="#404040" stroke-width="1.2"/><path d="M747,19 L759,7" stroke="#404040" stroke-width="1"/><path d="M773,14 L782,5.5 M775,18 L786,8 M778,14 l0.5,-4 M781,11 l0.5,-4 M784,8 l0.5,-4" stroke="#404040" stroke-width="1" fill="none"/><text x="784" y="21" font-family='"Liberation Sans", sans-serif' font-size="7" font-weight="bold" fill="#404040">E</text><g stroke="#404040" stroke-width="1" stroke-dasharray="1,1"><path d="M802,5.5 H815"/><path d="M802,8.5 H815"/><path d="M802,12.5 H815"/><path d="M802,16.5 H815"/></g><text x="812" y="21" font-family='"Liberation Sans", sans-serif' font-size="7" font-weight="bold" fill="#404040">F</text><text x="833" y="17" font-family='"Liberation Sans", sans-serif' font-size="12" font-weight="bold" fill="#505050">A</text><rect x="859.5" y="5.5" width="11" height="13" fill="none" stroke="#505050" stroke-width="1" stroke-dasharray="1,1"/><text x="861" y="16.5" font-family='"Liberation Sans", sans-serif' font-size="11" font-weight="bold" fill="#505050">T</text><polygon points="886,9.5 889.5,6 893,9.5" fill="#404040"/><polygon points="893,15.5 896.5,19 900,15.5" fill="#404040"/><path d="M888,12 l2,2 l4,-4" stroke="#404040" stroke-width="1.2" fill="none"/><polygon points="906.5,11 911.5,11 909.0,14" fill="#000"/><rect x="918" y="0" width="1" height="23" fill="#a0a0a0"/><rect x="919" y="0" width="1" height="23" fill="#ffffff"/><rect x="922" y="2" width="3" height="1" fill="#a0a0a0"/><rect x="922" y="4" width="3" height="1" fill="#a0a0a0"/><rect x="922" y="6" width="3" height="1" fill="#a0a0a0"/><rect x="922" y="8" width="3" height="1" fill="#a0a0a0"/><rect x="922" y="10" width="3" height="1" fill="#a0a0a0"/><rect x="922" y="12" width="3" height="1" fill="#a0a0a0"/><rect x="922" y="14" width="3" height="1" fill="#a0a0a0"/><rect x="922" y="16" width="3" height="1" fill="#a0a0a0"/><rect x="922" y="18" width="3" height="1" fill="#a0a0a0"/><rect x="922" y="20" width="3" height="1" fill="#a0a0a0"/><rect x="1068" y="0" width="25" height="22" fill="url(#chk)"/><rect x="1068" y="0" width="1" height="22" fill="#a0a0a0"/><rect x="1068" y="0" width="25" height="1" fill="#a0a0a0"/><rect x="1093" y="0" width="1" height="22" fill="#ffffff"/><rect x="1068" y="22" width="26" height="1" fill="#ffffff"/><text x="933.6" y="16" font-family='"Liberation Sans", sans-serif' font-size="10" fill="#303030" textLength="12.4" lengthAdjust="spacingAndGlyphs">M1</text><text x="961.7" y="16" font-family='"Liberation Sans", sans-serif' font-size="10" fill="#303030" textLength="12.4" lengthAdjust="spacingAndGlyphs">M5</text><text x="987.8" y="16" font-family='"Liberation Sans", sans-serif' font-size="10" fill="#303030" textLength="17.3" lengthAdjust="spacingAndGlyphs">M15</text><text x="1015.9" y="16" font-family='"Liberation Sans", sans-serif' font-size="10" fill="#303030" textLength="16.9" lengthAdjust="spacingAndGlyphs">M30</text><text x="1046.9" y="16" font-family='"Liberation Sans", sans-serif' font-size="10" fill="#303030" textLength="11.1" lengthAdjust="spacingAndGlyphs">H1</text><text x="1073.4" y="16" font-family='"Liberation Sans", sans-serif' font-size="10" fill="#303030" textLength="12.7" lengthAdjust="spacingAndGlyphs">H4</text><text x="1102.7" y="16" font-family='"Liberation Sans", sans-serif' font-size="10" fill="#303030" textLength="11.7" lengthAdjust="spacingAndGlyphs">D1</text><text x="1130" y="16" font-family='"Liberation Sans", sans-serif' font-size="10" fill="#303030" textLength="14.4" lengthAdjust="spacingAndGlyphs">W1</text><text x="1156.7" y="16" font-family='"Liberation Sans", sans-serif' font-size="10" fill="#303030" textLength="14.6" lengthAdjust="spacingAndGlyphs">MN</text><rect x="1179" y="0" width="1" height="23" fill="#a0a0a0"/><rect x="1180" y="0" width="1" height="23" fill="#ffffff"/><circle cx="1649.5" cy="9.3" r="4" fill="#fff" stroke="#2a5fd0" stroke-width="1.3"/><path d="M1646.5,12.5 L1642.8,16.5" stroke="#2a5fd0" stroke-width="2.2" stroke-linecap="round"/><ellipse cx="1671.5" cy="14.3" rx="4.8" ry="4" fill="#e8e8f0" stroke="#a0a0a0" stroke-width="1"/><path d="M1669,18 l-0.5,2.5 l2.5,-2" fill="#e8e8f0" stroke="#909090" stroke-width="0.8"/><circle cx="1680.4" cy="9.4" r="8.2" fill="url(#redb)"/><text x="1680.4" y="14" font-family='"Liberation Serif", serif' font-size="11" font-weight="bold" fill="#fff" text-anchor="middle">1</text>
<defs><linearGradient id="gs" x1="0" y1="0" x2="0" y2="1"><stop offset="0" stop-color="#f65a5a"/><stop offset="1" stop-color="#d42a2a"/></linearGradient><linearGradient id="gp" x1="0" y1="0" x2="0" y2="1"><stop offset="0" stop-color="#dc2828"/><stop offset="1" stop-color="#b40a0a"/></linearGradient><linearGradient id="gb" x1="0" y1="0" x2="0" y2="1"><stop offset="0" stop-color="#f0f0f0"/><stop offset="1" stop-color="#c8c8c8"/></linearGradient></defs><rect x="0" y="48" width="42" height="24" fill="url(#gs)"/><rect x="158" y="48" width="52" height="24" fill="url(#gs)"/><rect x="0" y="71" width="39" height="1" fill="#f8b0b0"/><rect x="162" y="71" width="44" height="1" fill="#f8b0b0"/><rect x="0" y="72" width="100" height="33" fill="url(#gp)"/><rect x="102" y="72" width="108" height="33" fill="url(#gp)"/><rect x="45.5" y="48.5" width="112" height="22" fill="#fff" stroke="#b4b4b4"/><rect x="46.5" y="49.5" width="18" height="20" fill="url(#gb)" stroke="#c8c8c8"/><rect x="135.5" y="49.5" width="20" height="20" fill="url(#gb)" stroke="#c8c8c8"/><polygon points="53,58 58,58 55.5,61" fill="#5060c0"/><polygon points="143,61 148,61 145.5,58" fill="#5060c0"/><g font-family='"Liberation Sans", sans-serif'><text x="3" y="64" font-size="12" fill="#fff" text-anchor="start" font-weight="normal"  textLength="25.5" lengthAdjust="spacingAndGlyphs">SELL</text><text x="171" y="64" font-size="12" fill="#fff" text-anchor="start" font-weight="normal" >BUY</text><text x="131" y="64" font-size="12" fill="#000" text-anchor="end" font-weight="normal" >1.00</text><text x="14" y="100" font-size="12" fill="#fff" text-anchor="start" font-weight="bold" >150</text><text x="39.5" y="100.5" font-size="33.5" fill="#fff" text-anchor="start" font-weight="normal"  textLength="33" lengthAdjust="spacingAndGlyphs">10</text><text x="80" y="85" font-size="11" fill="#fff" text-anchor="start" font-weight="bold" >1</text><text x="123" y="100" font-size="12" fill="#fff" text-anchor="start" font-weight="bold" >150</text><text x="150.5" y="100.5" font-size="33.5" fill="#fff" text-anchor="start" font-weight="normal"  textLength="33" lengthAdjust="spacingAndGlyphs">14</text><text x="189" y="85" font-size="11" fill="#fff" text-anchor="start" font-weight="bold" >9</text></g>
</svg>
</body></html>
